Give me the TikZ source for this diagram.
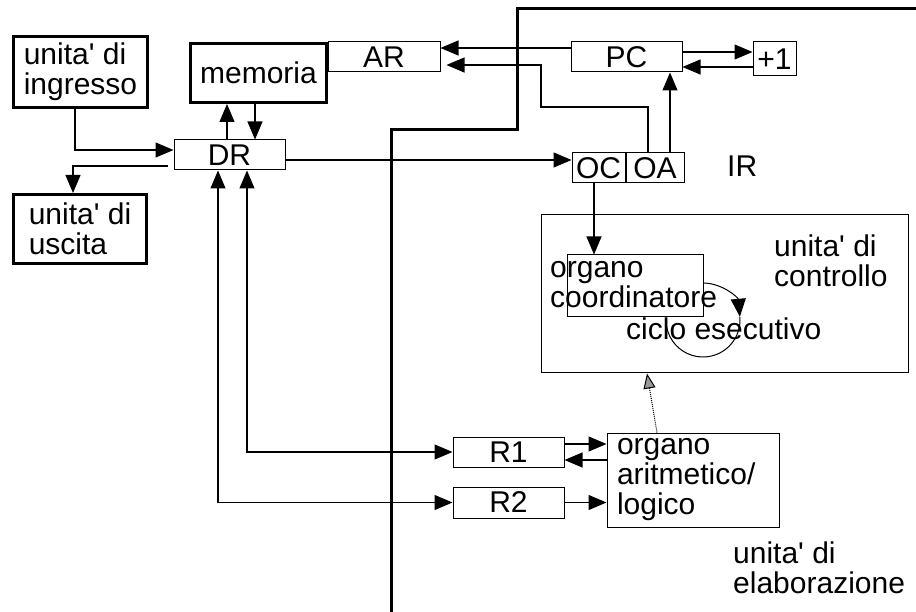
\documentclass[tikz,border=0pt]{standalone}
\usepackage{fontspec}
\setmainfont{Liberation Sans}
\usetikzlibrary{arrows.meta, positioning, calc}
\newcommand{\lblfont}{\fontsize{30}{30}\selectfont}
\newcommand{\ap}{\textquotesingle}
\tikzset{
	conn/.style={line width=1.2pt, -{Triangle[length=18pt,width=15pt]}},
	biconn/.style={line width=1.2pt, {Triangle[length=18pt,width=15pt]}-{Triangle[length=18pt,width=15pt]}}
}

\begin{document}
\begin{tikzpicture}[x=1pt, y=-1pt, font=\lblfont]

              \tikzset{
                regbox/.style={
                    shape=rectangle,
                    draw=black,
                    line width=1pt,
                    minimum width=111pt,
                    minimum height=30pt,
                    inner sep=0pt
                  },
                unitbox/.style={
                    shape=rectangle,
                    draw=black,
                    line width=3pt,
                    align=left,
                    inner sep=0pt
                  },
                areabox/.style={shape=rectangle, draw=black, line width=1pt},
                lbl/.style={align=left, inner sep=0pt, anchor=base west}
              }
              \useasboundingbox (0,0) rectangle (916,612);

              % separatore
              \draw[line width=3pt] (391,612) -- (391,130) -- (517,130) -- (517,9) -- (916,9);

              \node[unitbox, minimum width=134pt, minimum height=71pt] (ingr) at (80.5,72) {unita\ap{} di\\ingresso};
              \node[unitbox, minimum width=136pt, minimum height=59pt] (mem) at (258.5,73) {memoria};
              \node[regbox, minimum width=112pt] (AR) at (384,57) {AR};
              \node[regbox] (DR) at (229.5,155) {DR};
              \node[unitbox, minimum width=133pt, minimum height=69pt] (usc) at (80,229) {unita\ap{} di\\uscita};

              \node[regbox] (PC) at (626.5,57) {PC};
              \node[regbox, minimum width=43pt, minimum height=34pt] (inc) at (774.5,59) {+1};
              \node[regbox, minimum width=53pt] (OC) at (598.5,168) {OC};
              \node[regbox, minimum width=58pt, right=0pt of OC] (OA) {OA};
              \node[lbl] (IR) at (727,177) {IR};

              \node[areabox, minimum width=367pt, minimum height=158pt] (ctrl) at (724.5,294) {};
              \node[regbox, minimum width=136pt, minimum height=62pt] (coord) at (635,286) {};
              \node[lbl] (coordtxt) at (550,308) {organo\\coordinatore};
              \node[lbl] (ctrltxt) at (774,287) {unita\ap{} di\\controllo};
              \node[lbl] (ciclo) at (626,340) {ciclo esecutivo};
              \coordinate (cyc) at (703,320);

              \node[areabox, minimum width=172pt, minimum height=94pt, align=left, text width=152pt, inner sep=0pt] (ALU) at (693,480) {organo\\aritmetico/\\logico};
              \node[regbox] (R1) at (508.5,452) {R1};
              \node[regbox, minimum height=31pt] (R2) at (508.5,502.5) {R2};
              \node[lbl] (elab) at (733,593) {unita\ap{} di\\elaborazione};

              % memoria e periferiche
              \draw[conn] ([xshift=-5.5pt]ingr.south) |- ([yshift=5pt]DR.west);
              \draw[conn] ([xshift=-6pt,yshift=-11pt]DR.west) -| ([xshift=-7pt]usc.north);
              \draw[conn] ([xshift=-2.5pt]DR.north) -- ([xshift=-2.5pt]DR.north |- mem.south);
              \draw[conn] ([xshift=-3.5pt]mem.south) -- ([xshift=-3.5pt]mem.south |- DR.north);
              \draw[conn] ([yshift=-5pt]DR.east) -- ([yshift=-5pt]DR.east -| OC.west);

              % indirizzi
              \coordinate (jog) at (541,107);
              \draw[conn] ([yshift=9pt]PC.west) -- ([yshift=9pt]PC.west -| AR.east);
              \draw[conn, shorten >=6pt] ([xshift=-7pt]OA.north) |- (jog) |- ([yshift=-8pt]AR.east);
              \draw[conn] ([xshift=15pt]OA.north) -- ([xshift=15pt]OA.north |- PC.south);
              \draw[conn] ([yshift=5pt]PC.east) -- ([yshift=5pt]PC.east -| inc.west);
              \draw[conn] ([yshift=-8pt]inc.west) -- ([yshift=-8pt]inc.west -| PC.east);
              \draw[conn] ([xshift=-4.5pt]OC.south) -- ([xshift=-4.5pt]OC.south |- coord.north);

              % registri di elaborazione
              \draw[biconn] ([xshift=17.5pt]DR.south) |- (R1.west);
              \draw[biconn] ([xshift=-11.5pt]DR.south) |- (R2.west);
              \draw[conn] ([yshift=8pt]R1.east) -- ([yshift=8pt]R1.east -| ALU.west);
              \draw[conn] ([yshift=-8pt]R1.east -| ALU.west) -- ([yshift=-8pt]R1.east);
              \draw[conn] (R2.east) -- (R2.east -| ALU.west);
              \draw[densely dotted, line width=1pt, -{Triangle[length=15pt,width=12pt,fill=gray!80]}] ([xshift=-36pt]ALU.north) -- ([xshift=-77.5pt]ctrl.south);

              % ciclo esecutivo
              \draw[conn, line width=1pt] (cyc) ++(-90:37) arc[start angle=-90, end angle=-5, radius=37];
              \draw[line width=1pt] (cyc) ++(-5:37) arc[start angle=-5, end angle=180, radius=37];

            \end{tikzpicture}
\end{document}
